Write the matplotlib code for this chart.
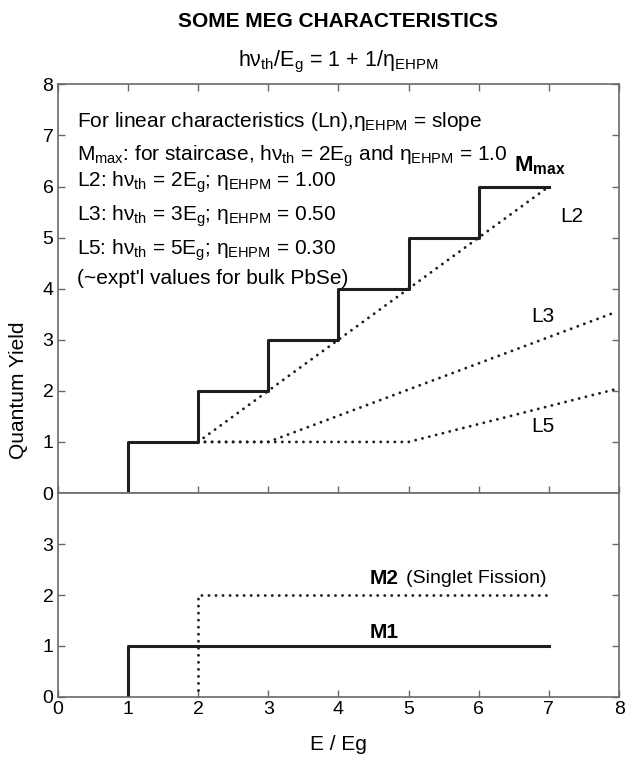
import matplotlib.pyplot as plt
import numpy as np

plt.rcParams['font.family'] = ['Liberation Sans', 'DejaVu Sans']
plt.rcParams['mathtext.fontset'] = 'custom'
plt.rcParams['mathtext.rm'] = 'Liberation Sans'
plt.rcParams['mathtext.it'] = 'Liberation Sans'
plt.rcParams['mathtext.bf'] = 'Liberation Sans:bold'

# top panel: staircase M_max and linear characteristics
mmax_x = [1, 1, 2, 2, 3, 3, 4, 4, 5, 5, 6, 6, 7]
mmax_y = [0, 1, 1, 2, 2, 3, 3, 4, 4, 5, 5, 6, 6]
l2_x = [2, 7]
l2_y = [1, 6]
l3_x = [2, 3, 7.93]
l3_y = [1, 1, 3.53]
l5_x = [2, 5, 8]
l5_y = [1, 1, 2.05]

# bottom panel
m1_x = [1, 1, 7]
m1_y = [0, 1, 1]
m2_x = [2, 2, 7]
m2_y = [0, 2, 2]

notes = [
    r'For linear characteristics (Ln),$\eta_{\rm EHPM}$ = slope',
    r'M$_{\rm max}$: for staircase, h$\nu_{\rm th}$ = 2E$_{\rm g}$ and $\eta_{\rm EHPM}$ = 1.0',
    r'L2: h$\nu_{\rm th}$ = 2E$_{\rm g}$; $\eta_{\rm EHPM}$ = 1.00',
    r'L3: h$\nu_{\rm th}$ = 3E$_{\rm g}$; $\eta_{\rm EHPM}$ = 0.50',
    r'L5: h$\nu_{\rm th}$ = 5E$_{\rm g}$; $\eta_{\rm EHPM}$ = 0.30',
    "(~expt'l values for bulk PbSe)",
]
note_y = [7.28, 6.6, 6.08, 5.42, 4.75, 4.2]

dotted = (0, (0.01, 2.4))
spine_col = '#6a6a6a'
line_col = '#1e1e1e'

fig = plt.figure(figsize=(6.26, 7.57), dpi=100)
ax1 = fig.add_axes([0.092, 0.3487, 0.897, 0.5399])
ax2 = fig.add_axes([0.092, 0.0793, 0.897, 0.2694])

for ax in (ax1, ax2):
    ax.set_xlim(0, 8)
    ax.set_xticks(range(0, 9))
    for s in ax.spines.values():
        s.set_color(spine_col)
        s.set_linewidth(1.2)
    ax.tick_params(direction='in', top=True, right=True, length=5, width=1,
                   color=spine_col, labelsize=14, pad=3)

ax1.set_ylim(0, 8)
ax1.set_yticks(range(0, 9))
ax1.tick_params(labelbottom=False)
ax2.set_ylim(0, 4)
ax2.set_yticks([0, 1, 2, 3])
ax2.tick_params(top=False)

ax1.plot(mmax_x, mmax_y, color=line_col, lw=2.2)
for xs, ys in ((l2_x, l2_y), (l3_x, l3_y), (l5_x, l5_y)):
    ax1.plot(xs, ys, color=line_col, lw=2.1, linestyle=dotted,
             dash_capstyle='round', clip_on=False)

for t, y in zip(notes, note_y):
    ax1.text(0.27, y, t, fontsize=15, va='center', ha='left')

ax1.text(6.87, 6.4, r'$\mathbf{M_{max}}$', fontsize=16, ha='center', va='center')
ax1.text(7.33, 5.42, 'L2', fontsize=15, ha='center', va='center')
ax1.text(6.91, 3.46, 'L3', fontsize=15, ha='center', va='center')
ax1.text(6.91, 1.3, 'L5', fontsize=15, ha='center', va='center')

ax2.plot(m1_x, m1_y, color=line_col, lw=2.2)
ax2.plot(m2_x, m2_y, color=line_col, lw=2.1, linestyle=dotted,
         dash_capstyle='round')
ax2.text(4.65, 1.27, 'M1', fontsize=15, fontweight='bold', ha='center', va='center')
ax2.text(4.45, 2.33, 'M2', fontsize=15, fontweight='bold', ha='left', va='center')
ax2.text(4.97, 2.33, '(Singlet Fission)', fontsize=14, ha='left', va='center')

ax2.set_xlabel('E / Eg', fontsize=15, labelpad=12)
fig.text(0.03, 0.484, 'Quantum Yield', rotation=90, fontsize=15,
         ha='center', va='center')

fig.text(0.54, 0.972, 'SOME MEG CHARACTERISTICS', fontsize=15, fontweight='bold',
         ha='center', va='center')
fig.text(0.54, 0.918, r'h$\nu_{\rm th}$/E$_{\rm g}$ = 1 + 1/$\eta_{\rm EHPM}$',
         fontsize=15.5, ha='center', va='center')

fig.savefig('out.png', dpi=100)
